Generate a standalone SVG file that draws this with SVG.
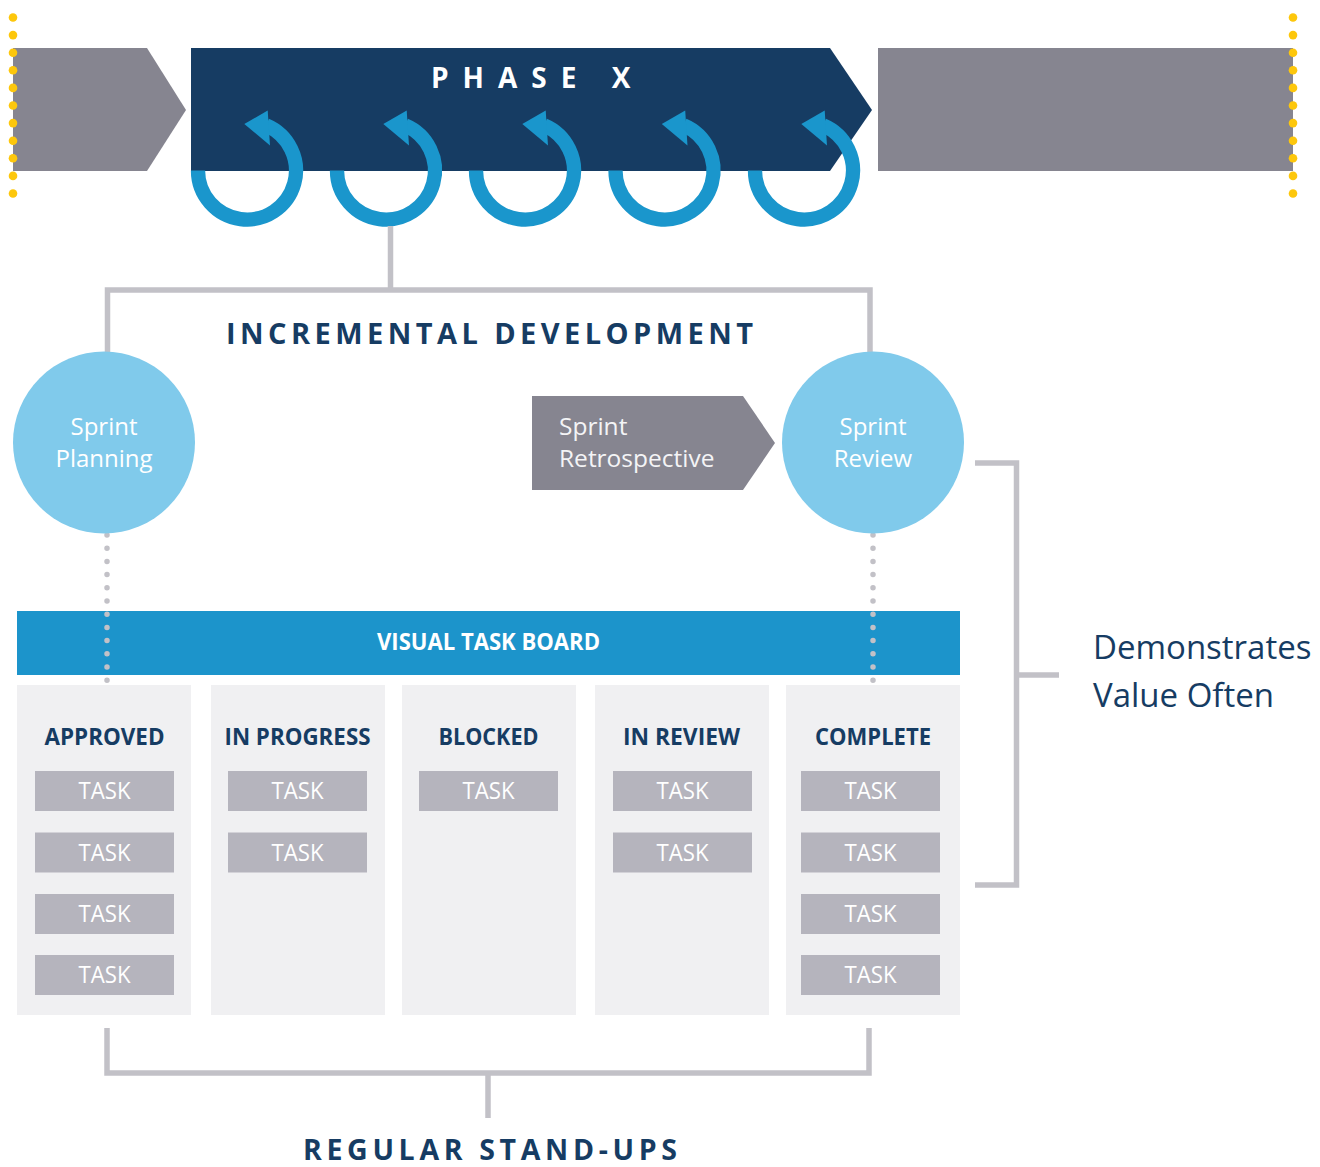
<svg xmlns="http://www.w3.org/2000/svg" xmlns:xlink="http://www.w3.org/1999/xlink" width="1320" height="1167" viewBox="0 0 1320 1167">
  <style>
    text { font-family: "Open Sans", "Liberation Sans", sans-serif; }
    .navy { fill: #163c63; }
    .white { fill: #ffffff; }
    .grey-shape { fill: #868590; }
    .yellow { fill: #fdc70c; }
    .loop-arc { fill: none; stroke: #1a96cc; stroke-width: 14.3; }
    .loop-head { fill: #1a96cc; }
    .title { font-weight: 700; font-size: 29px; }
    .phase { font-weight: 700; font-size: 28px; }
    .circle { fill: #80caeb; }
    .circle-txt { font-size: 24px; fill: #ffffff; text-anchor: middle; }
    .retro-txt { font-size: 24.5px; fill: #f4f4f6; }
    .board-head { fill: #1c94cb; }
    .col { fill: #f0f0f2; }
    .col-hdr { font-weight: 700; font-size: 24px; text-anchor: middle; fill: #163c63; }
    .task { fill: #b5b4bd; }
    .task-txt { font-size: 23px; fill: #ffffff; text-anchor: middle; }
    .conn { fill: none; stroke: #c2c1c7; stroke-width: 5.5; }
    .dots { fill: none; stroke: #c2c1c7; stroke-width: 5.5; stroke-linecap: round; stroke-dasharray: 0 13.2; }
    .note { font-size: 33px; fill: #163c63; }
  </style>
  <defs>
    <!-- circular iteration arrow, centred on (0,0) -->
    <g id="loop">
      <path class="loop-arc" d="M-49,0 A49,49 0 1 0 19.15,-45.1"/>
      <polygon class="loop-head" points="-2.7,-46.5 20.7,-60 23,-25"/>
    </g>
    <!-- column of yellow boundary dots -->
    <g id="ydots">
      <circle cx="0" cy="17.5" r="4.3"/>
      <circle cx="0" cy="35.1" r="4.3"/>
      <circle cx="0" cy="52.7" r="4.3"/>
      <circle cx="0" cy="70.3" r="4.3"/>
      <circle cx="0" cy="87.9" r="4.3"/>
      <circle cx="0" cy="105.5" r="4.3"/>
      <circle cx="0" cy="123.1" r="4.3"/>
      <circle cx="0" cy="140.7" r="4.3"/>
      <circle cx="0" cy="158.3" r="4.3"/>
      <circle cx="0" cy="175.9" r="4.3"/>
      <circle cx="0" cy="193.5" r="4.3"/>
    </g>
  </defs>

  <!-- phase timeline -->
  <g id="phase-prev">
    <polygon class="grey-shape" points="13,48 147,48 186,110 147,171 13,171"/>
  </g>
  <g id="phase-x">
    <polygon fill="#163c63" points="191,48 830,48 872,110 830,171 191,171"/>
    <text class="phase white" x="431" y="88" letter-spacing="14">PHASE X</text>
  </g>
  <g id="phase-next">
    <rect class="grey-shape" x="878" y="48" width="415" height="123"/>
  </g>
  <g id="boundary-left" class="yellow"><use xlink:href="#ydots" href="#ydots" x="13" y="0"/></g>
  <g id="boundary-right" class="yellow"><use xlink:href="#ydots" href="#ydots" x="1293" y="0"/></g>

  <!-- sprint iterations -->
  <g id="sprint-1"><use xlink:href="#loop" href="#loop" x="247" y="170.5"/></g>
  <g id="sprint-2"><use xlink:href="#loop" href="#loop" x="386" y="170.5"/></g>
  <g id="sprint-3"><use xlink:href="#loop" href="#loop" x="525" y="170.5"/></g>
  <g id="sprint-4"><use xlink:href="#loop" href="#loop" x="664.5" y="170.5"/></g>
  <g id="sprint-5"><use xlink:href="#loop" href="#loop" x="804" y="170.5"/></g>

  <g id="incremental-development">
    <text class="title navy" x="226" y="344" textLength="527" lengthAdjust="spacing">INCREMENTAL DEVELOPMENT</text>
  </g>

  <g id="sprint-retrospective">
    <polygon class="grey-shape" points="532,396 743,396 775,443 743,490 532,490"/>
    <text class="retro-txt" x="559" y="435">Sprint</text>
    <text class="retro-txt" x="559" y="467">Retrospective</text>
  </g>

  <!-- visual task board -->
  <g id="task-board-header">
    <rect class="board-head" x="17" y="611" width="943" height="64"/>
    <text class="white" x="488.5" y="650" font-weight="700" font-size="24" text-anchor="middle" textLength="223" lengthAdjust="spacingAndGlyphs">VISUAL TASK BOARD</text>
  </g>

  <g id="col-approved">
    <rect class="col" x="17" y="685" width="174" height="330"/>
    <text class="col-hdr" x="104.5" y="745" textLength="120" lengthAdjust="spacingAndGlyphs">APPROVED</text>
    <rect class="task" x="35" y="771" width="139" height="40"/><text class="task-txt" x="104.5" y="799" textLength="52" lengthAdjust="spacingAndGlyphs">TASK</text>
    <rect class="task" x="35" y="832.5" width="139" height="40"/><text class="task-txt" x="104.5" y="860.5" textLength="52" lengthAdjust="spacingAndGlyphs">TASK</text>
    <rect class="task" x="35" y="894" width="139" height="40"/><text class="task-txt" x="104.5" y="922" textLength="52" lengthAdjust="spacingAndGlyphs">TASK</text>
    <rect class="task" x="35" y="955" width="139" height="40"/><text class="task-txt" x="104.5" y="983" textLength="52" lengthAdjust="spacingAndGlyphs">TASK</text>
  </g>
  <g id="col-in-progress">
    <rect class="col" x="211" y="685" width="174" height="330"/>
    <text class="col-hdr" x="297.5" y="745" textLength="146" lengthAdjust="spacingAndGlyphs">IN PROGRESS</text>
    <rect class="task" x="228" y="771" width="139" height="40"/><text class="task-txt" x="297.5" y="799" textLength="52" lengthAdjust="spacingAndGlyphs">TASK</text>
    <rect class="task" x="228" y="832.5" width="139" height="40"/><text class="task-txt" x="297.5" y="860.5" textLength="52" lengthAdjust="spacingAndGlyphs">TASK</text>
  </g>
  <g id="col-blocked">
    <rect class="col" x="402" y="685" width="174" height="330"/>
    <text class="col-hdr" x="488.5" y="745" textLength="100" lengthAdjust="spacingAndGlyphs">BLOCKED</text>
    <rect class="task" x="419" y="771" width="139" height="40"/><text class="task-txt" x="488.5" y="799" textLength="52" lengthAdjust="spacingAndGlyphs">TASK</text>
  </g>
  <g id="col-in-review">
    <rect class="col" x="595" y="685" width="174" height="330"/>
    <text class="col-hdr" x="681.5" y="745" textLength="117" lengthAdjust="spacingAndGlyphs">IN REVIEW</text>
    <rect class="task" x="613" y="771" width="139" height="40"/><text class="task-txt" x="682.5" y="799" textLength="52" lengthAdjust="spacingAndGlyphs">TASK</text>
    <rect class="task" x="613" y="832.5" width="139" height="40"/><text class="task-txt" x="682.5" y="860.5" textLength="52" lengthAdjust="spacingAndGlyphs">TASK</text>
  </g>
  <g id="col-complete">
    <rect class="col" x="786" y="685" width="174" height="330"/>
    <text class="col-hdr" x="873" y="745" textLength="116" lengthAdjust="spacingAndGlyphs">COMPLETE</text>
    <rect class="task" x="801" y="771" width="139" height="40"/><text class="task-txt" x="870.5" y="799" textLength="52" lengthAdjust="spacingAndGlyphs">TASK</text>
    <rect class="task" x="801" y="832.5" width="139" height="40"/><text class="task-txt" x="870.5" y="860.5" textLength="52" lengthAdjust="spacingAndGlyphs">TASK</text>
    <rect class="task" x="801" y="894" width="139" height="40"/><text class="task-txt" x="870.5" y="922" textLength="52" lengthAdjust="spacingAndGlyphs">TASK</text>
    <rect class="task" x="801" y="955" width="139" height="40"/><text class="task-txt" x="870.5" y="983" textLength="52" lengthAdjust="spacingAndGlyphs">TASK</text>
  </g>

  <!-- connectors -->
  <g id="connectors">
    <path class="conn" d="M390.5,226 V290"/>
    <path class="conn" d="M107.5,356 V290 H870 V356"/>
    <path class="conn" d="M975,463 H1016.5 V885 H975"/>
    <path class="conn" d="M1016.5,675 H1059"/>
    <path class="conn" d="M107,1028 V1073 H869 V1028"/>
    <path class="conn" d="M488,1073 V1118"/>
    <line class="dots" x1="107" y1="535" x2="107" y2="681"/>
    <line class="dots" x1="873" y1="535" x2="873" y2="681"/>
  </g>

  <g id="sprint-planning">
    <circle class="circle" cx="104" cy="442.5" r="91"/>
    <text class="circle-txt" x="104" y="435">Sprint</text>
    <text class="circle-txt" x="104" y="467">Planning</text>
  </g>
  <g id="sprint-review">
    <circle class="circle" cx="873" cy="442.5" r="91"/>
    <text class="circle-txt" x="873" y="435">Sprint</text>
    <text class="circle-txt" x="873" y="467">Review</text>
  </g>

  <g id="demonstrates-value">
    <text class="note" x="1093" y="659">Demonstrates</text>
    <text class="note" x="1093" y="707">Value Often</text>
  </g>

  <g id="regular-stand-ups">
    <text class="navy" x="303" y="1160" font-weight="700" font-size="28.5" textLength="374" lengthAdjust="spacing">REGULAR STAND-UPS</text>
  </g>
</svg>
